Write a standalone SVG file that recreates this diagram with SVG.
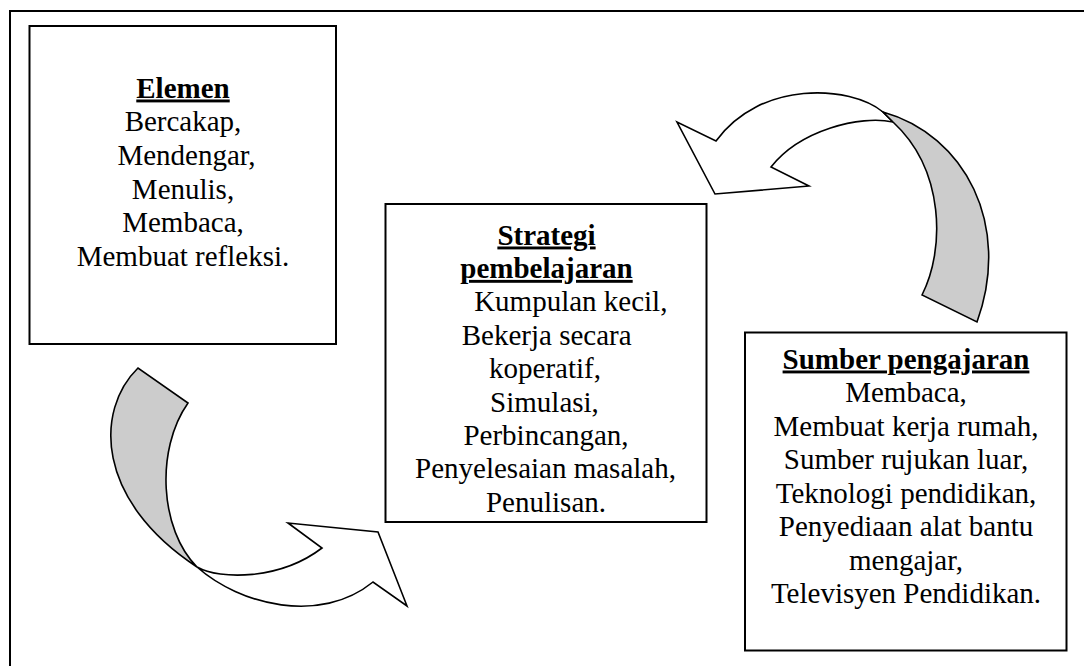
<svg xmlns="http://www.w3.org/2000/svg" width="1084" height="666" viewBox="0 0 1084 666">
<style>
.box{fill:#fff;stroke:#000;stroke-width:2}
.frame{fill:none;stroke:#000;stroke-width:2}
.t{font-family:"Liberation Serif","Times New Roman",serif;font-size:29px;fill:#000;text-anchor:middle}
.h{font-weight:bold;text-decoration:underline}
.face{fill:#fff;stroke:#000;stroke-width:1.6;stroke-linejoin:miter}
.back{fill:#cccccc;stroke:#000;stroke-width:1.6;stroke-linejoin:miter}
</style>
<rect width="1084" height="666" fill="#fff"/>
<path class="frame" d="M10,666 V11 H1084"/>
<g id="connectors">
  <g id="arrow-elemen-strategi">
    <path class="face" d="M197,567 C220,580 280,580 322,548 L288,523 L378,532 L407,606 L373,582 C320,625 240,605 197,567 Z"/>
    <path class="back" d="M138,368 C95,410 95,500 197,567 C160,530 155,450 188,403 Z"/>
  </g>
  <g id="arrow-sumber-strategi">
    <path class="face" d="M883,112 C850,85 760,80 716,141 L677,122 L715,194 L809,186 L771,167 C800,130 860,115 893,122 Z"/>
    <path class="back" d="M883,112 C965,135 1012,225 977,322 L922,295 C945,250 945,170 893,122 Z"/>
  </g>
</g>
<g id="node-elemen">
  <rect class="box" x="29.5" y="26" width="306.5" height="318"/>
  <text class="t h" x="183" y="97.5">Elemen</text>
  <text class="t" x="183" y="131.2">Bercakap,</text>
  <text class="t" x="186.5" y="164.9">Mendengar,</text>
  <text class="t" x="183" y="198.6">Menulis,</text>
  <text class="t" x="183" y="232.3">Membaca,</text>
  <text class="t" x="183" y="266">Membuat refleksi.</text>
</g>
<g id="node-strategi">
  <rect class="box" x="385.5" y="204" width="321" height="318"/>
  <text class="t h" x="546.5" y="244.5">Strategi</text>
  <text class="t h" x="546.5" y="277.9">pembelajaran</text>
  <text class="t" x="570.8" y="311.3">Kumpulan kecil,</text>
  <text class="t" x="546.7" y="344.7">Bekerja secara</text>
  <text class="t" x="545" y="378.1">koperatif,</text>
  <text class="t" x="544.5" y="411.5">Simulasi,</text>
  <text class="t" x="546" y="444.9">Perbincangan,</text>
  <text class="t" x="545.5" y="478.3">Penyelesaian masalah,</text>
  <text class="t" x="546" y="511.7">Penulisan.</text>
</g>
<g id="node-sumber">
  <rect class="box" x="745" y="332.5" width="321.5" height="318"/>
  <text class="t h" x="906" y="368.5">Sumber pengajaran</text>
  <text class="t" x="906" y="402">Membaca,</text>
  <text class="t" x="906" y="435.5">Membuat kerja rumah,</text>
  <text class="t" x="906" y="469">Sumber rujukan luar,</text>
  <text class="t" x="906" y="502.5">Teknologi pendidikan,</text>
  <text class="t" x="906" y="536">Penyediaan alat bantu</text>
  <text class="t" x="906" y="569.5">mengajar,</text>
  <text class="t" x="906" y="603">Televisyen Pendidikan.</text>
</g>
</svg>
